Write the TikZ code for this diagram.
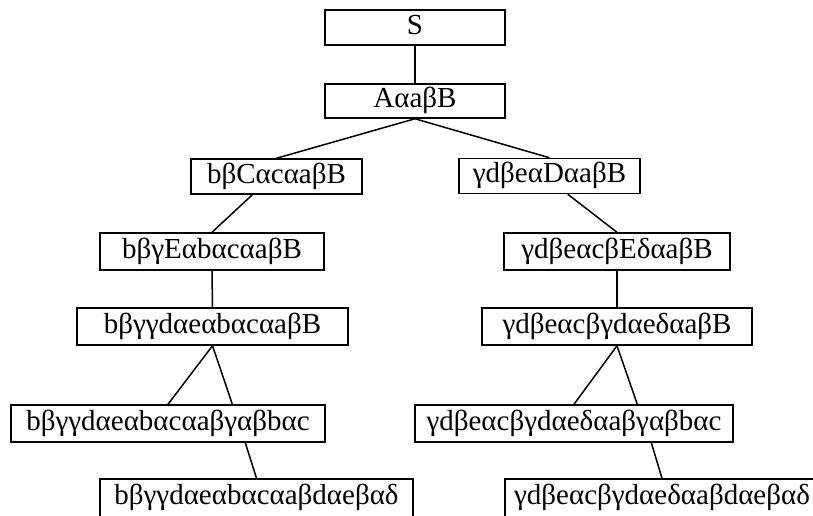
\documentclass[tikz,border=0pt]{standalone}
\usepackage{fontspec}
\setmainfont{Liberation Serif}
\usetikzlibrary{calc}
\begin{document}
\begin{tikzpicture}[x=1pt,y=-1pt,
  box/.style={draw,line width=1.5pt,inner sep=0pt,minimum height=35pt,text height=20pt,text depth=7pt,font=\fontsize{29}{31}\selectfont,anchor=center},
  cutbox/.style={box,text depth=15pt,minimum height=45pt},
  conn/.style={line width=1.5pt}]
\useasboundingbox (0,0) rectangle (813,515);
\begin{scope}
\clip (0,0) rectangle (813,515);
\node[box,minimum width=180pt,minimum height=35pt] (s) at (415,27.5) {S};
\node[box,minimum width=180pt,minimum height=34pt] (a) at (415,101) {AαaβB};
\node[box,minimum width=171pt] (bc) at (276.5,176.5) {bβCαcαaβB};
\node[box,minimum width=181pt] (gd) at (549.5,176) {γdβeαDαaβB};
\node[box,minimum width=224pt,minimum height=37pt] (be) at (212,251.5) {bβγEαbαcαaβB};
\node[box,minimum width=226pt,minimum height=37pt] (ge) at (617,251.5) {γdβeαcβEδαaβB};
\node[box,minimum width=271pt,minimum height=37pt] (bg) at (212.5,326.5) {bβγγdαeαbαcαaβB};
\node[box,minimum width=270pt,minimum height=37pt] (gg) at (617,326.5) {γdβeαcβγdαeδαaβB};
\node[box,minimum width=314pt,minimum height=37pt] (bl) at (168,423.5) {bβγγdαeαbαcαaβγαβbαc};
\node[box,minimum width=318pt,minimum height=37pt] (gl) at (574,423.5) {γdβeαcβγdαeδαaβγαβbαc};
\node[cutbox,minimum width=313pt] (bb) at (256.5,501.5) {bβγγdαeαbαcαaβdαeβαδ};
\node[cutbox,minimum width=314pt] (gb) at (662,501.5) {γdβeαcβγdαeδαaβdαeβαδ};
\draw[conn] (s.south) -- (a.north);
\draw[conn] (a.south) -- (bc.north);
\draw[conn] (a.south) -- (gd.north);
\draw[conn] ($(bc.south west)!0.36!(bc.south east)$) -- (be.north);
\draw[conn] ($(gd.south west)!0.60!(gd.south east)$) -- (ge.north);
\draw[conn] (be.south) -- (bg.north);
\draw[conn] (ge.south) -- (gg.north);
\draw[conn] (bg.south) -- (bl.north);
\draw[conn] (bg.south) -- ($(bl.north west)!0.704!(bl.north east)$);
\draw[conn] ($(bl.south west)!0.745!(bl.south east)$) -- (bb.north);
\draw[conn] (gg.south) -- (gl.north);
\draw[conn] (gg.south) -- ($(gl.north west)!0.698!(gl.north east)$);
\draw[conn] ($(gl.south west)!0.742!(gl.south east)$) -- (gb.north);
\end{scope}
\end{tikzpicture}
\end{document}
